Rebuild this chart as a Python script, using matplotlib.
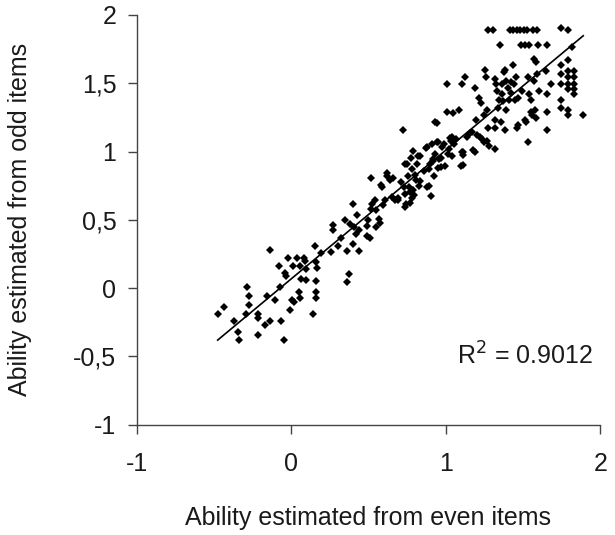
import numpy as np
import matplotlib.pyplot as plt

# ability estimates (even items on x, odd items on y)
x_even = [
    -0.475, -0.437, -0.371, -0.344, -0.334, -0.29, -0.283, -0.27, -0.27, -0.217,
    -0.212, -0.212, -0.17, -0.154, -0.139, -0.139, -0.104, -0.076, -0.073, -0.063,
    -0.048, -0.038, -0.035, -0.023, -0.01, 0.008, 0.015, 0.018, 0.038, 0.053,
    0.056, 0.058, 0.063, 0.083, 0.088, 0.094, 0.096, 0.144, 0.154, 0.159,
    0.159, 0.159, 0.169, 0.164, 0.195, 0.26, 0.273, 0.273, 0.306, 0.323,
    0.351, 0.364, 0.364, 0.374, 0.384, 0.40, 0.402, 0.409, 0.422, 0.427,
    0.437, 0.442, 0.488, 0.493, 0.50, 0.51, 0.518, 0.518, 0.526, 0.543,
    0.548, 0.566, 0.574, 0.581, 0.589, 0.594, 0.607, 0.619, 0.639, 0.652,
    0.675, 0.690, 0.708, 0.723, 0.730, 0.735, 0.740, 0.740, 0.746, 0.756,
    0.761, 0.766, 0.771, 0.776, 0.781, 0.786, 0.791, 0.796, 0.801, 0.806,
    0.816, 0.821, 0.829, 0.836, 0.857, 0.872, 0.877, 0.892, 0.895, 0.897,
    0.905, 0.912, 0.917, 0.927, 0.930, 0.933, 0.943, 0.948, 0.953, 0.958,
    0.968, 0.973, 0.978, 0.986, 0.993, 1.006, 1.006, 1.018, 1.023, 1.031,
    1.036, 1.039, 1.049, 1.054, 1.069, 1.087, 1.099, 1.104, 1.104, 1.114,
    1.125, 1.140, 1.158, 1.170, 1.180, 1.188, 1.195, 1.200, 1.213, 1.226,
    1.233, 1.246, 1.251, 1.256, 1.261, 1.266, 1.271, 1.276, 1.281, 1.307,
    1.317, 1.322, 1.322, 1.322, 1.327, 1.329, 1.340, 1.345, 1.352, 1.357,
    1.362, 1.367, 1.372, 1.377, 1.385, 1.385, 1.390, 1.393, 1.403, 1.408,
    1.415, 1.420, 1.425, 1.433, 1.438, 1.441, 1.448, 1.458, 1.461, 1.461,
    1.466, 1.471, 1.478, 1.486, 1.491, 1.504, 1.511, 1.516, 1.521, 1.529,
    1.534, 1.534, 1.537, 1.542, 1.549, 1.554, 1.559, 1.567, 1.572, 1.574,
    1.580, 1.585, 1.587, 1.592, 1.592, 1.597, 1.605, 1.650, 1.655, 1.655,
    1.655, 1.655, 1.680, 1.744, 1.749, 1.749, 1.749, 1.749, 1.749, 1.794,
    1.794, 1.794, 1.794, 1.794, 1.794, 1.794, 1.794, 1.820, 1.832, 1.832,
    1.832, 1.832, 1.832, 1.890, 0.548,
    0.621, 0.660, 0.750, 0.835, 0.880, 0.920, 0.945, 1.040, 1.110, 1.110,
    1.190, 1.220, 1.270, 0.780, 0.690,
]
y_odd = [
    -0.19, -0.14, -0.24, -0.32, -0.38, -0.19, 0.01, -0.06, -0.12, -0.34,
    -0.19, -0.22, -0.27, -0.06, -0.24, 0.28, -0.09, 0.16, 0.01, -0.24,
    -0.38, 0.11, 0.09, 0.22, -0.16, -0.09, 0.16, -0.10, 0.22, -0.03,
    -0.075, 0.16, 0.07, 0.22, 0.20, 0.06, 0.14, -0.19, 0.31, -0.03,
    -0.075, 0.195, 0.145, 0.055, 0.26, 0.265, 0.46, 0.425, 0.31, 0.37,
    0.50, 0.275, 0.045, 0.105, 0.47, 0.615, 0.325, 0.45, 0.395, 0.535,
    0.425, 0.275, 0.457, 0.38, 0.50, 0.37, 0.806, 0.58, 0.615, 0.644,
    0.45, 0.507, 0.474, 0.757, 0.744, 0.607, 0.644, 0.819, 0.794, 0.664,
    0.644, 0.644, 0.774, 1.156, 0.742, 0.687, 0.911, 0.592, 0.619, 0.821,
    0.744, 0.707, 0.624, 0.956, 0.876, 1.001, 0.719, 0.682, 0.831, 0.794,
    0.911, 0.969, 0.749, 0.781, 0.856, 1.029, 0.744, 0.749, 0.876, 0.911,
    0.674, 1.059, 0.949, 0.824, 0.981, 1.218, 1.206, 1.069, 0.881, 0.944,
    0.889, 0.956, 1.031, 1.056, 0.891, 1.498, 1.293, 0.981, 1.019, 1.099,
    1.074, 0.969, 1.281, 1.056, 1.094, 1.306, 0.894, 0.999, 1.498, 0.974,
    1.543, 1.106, 1.136, 1.144, 1.011, 1.468, 1.231, 1.119, 1.393, 1.356,
    1.094, 1.268, 1.069, 1.598, 1.543, 1.306, 1.174, 1.893, 1.044, 1.893,
    1.531, 1.019, 1.231, 1.174, 1.493, 1.443, 1.318, 1.381, 1.780, 1.218,
    1.493, 1.418, 1.368, 1.581, 1.598, 1.156, 1.518, 1.306, 1.468, 1.381,
    1.893, 1.506, 1.431, 1.631, 1.893, 1.493, 1.381, 1.543, 1.893, 1.169,
    1.194, 1.393, 1.893, 1.780, 1.443, 1.893, 1.231, 1.780, 1.218, 1.893,
    1.543, 1.069, 1.780, 1.418, 1.381, 1.293, 1.268, 1.893, 1.680, 1.518,
    1.306, 1.655, 1.243, 1.893, 1.568, 1.780, 1.443, 1.593, 1.418, 1.293,
    1.156, 1.780, 1.493, 1.905, 1.631, 1.568, 1.493, 1.381, 1.318, 1.893,
    1.668, 1.593, 1.543, 1.493, 1.456, 1.306, 1.268, 1.768, 1.593, 1.543,
    1.493, 1.456, 1.418, 1.268, 0.569,
    0.84, 0.81, 0.91, 0.97, 1.03, 0.93, 1.07, 1.11, 1.00, 0.90,
    1.00, 1.11, 1.08, 0.66, 0.66,
]

# linear trendline as printed on the chart
trend_slope = 0.942
trend_intercept = 0.0675
r_squared = 0.9012

x_ticks = [-1, 0, 1, 2]
x_tick_labels = ['-1', '0', '1', '2']
y_ticks = [-1, -0.5, 0, 0.5, 1, 1.5, 2]
y_tick_labels = ['-1', '-0,5', '0', '0,5', '1', '1,5', '2']

plt.rcParams['font.family'] = ['Liberation Sans', 'DejaVu Sans']
txt_color = '#1a1a1a'
fs = 18

fig = plt.figure(figsize=(6.15, 5.35), dpi=100)
ax = fig.add_axes([0.222, 0.206, 0.754, 0.766])

ax.plot(x_even, y_odd, linestyle='none', marker='D', markersize=3.8,
        color='black', markeredgewidth=0, clip_on=False)

xs = np.array([min(x_even), max(x_even)])
ax.plot(xs, trend_slope * xs + trend_intercept, color='black', linewidth=1.2)

ax.text(1.95, -0.5, f"R$^2$ = {r_squared:.4f}", ha='right', va='center',
        fontsize=fs, color=txt_color)

ax.set_xlim(-1, 2)
ax.set_ylim(-1, 2)
ax.set_xticks(x_ticks)
ax.set_xticklabels(x_tick_labels)
ax.set_yticks(y_ticks)
ax.set_yticklabels(y_tick_labels)

for side in ['top', 'right']:
    ax.spines[side].set_visible(False)
for side in ['left', 'bottom']:
    ax.spines[side].set_color('#444444')
    ax.spines[side].set_linewidth(1.0)

ax.tick_params(axis='x', direction='out', length=6.5, width=1.0, color='#444444',
               pad=13, labelsize=fs, labelcolor=txt_color)
ax.tick_params(axis='y', direction='out', length=6.5, width=1.0, color='#444444',
               pad=8, labelsize=fs, labelcolor=txt_color)

ax.set_xlabel("Ability estimated from even items", fontsize=fs, color=txt_color)
ax.set_ylabel("Ability estimated from odd items", fontsize=fs, color=txt_color)
ax.xaxis.set_label_coords(0.5, -0.228)
ax.yaxis.set_label_coords(-0.252, 0.5)
ax.xaxis.label.set_va('center')
ax.yaxis.label.set_va('center')

fig.savefig('out.png', dpi=100)
plt.close(fig)
